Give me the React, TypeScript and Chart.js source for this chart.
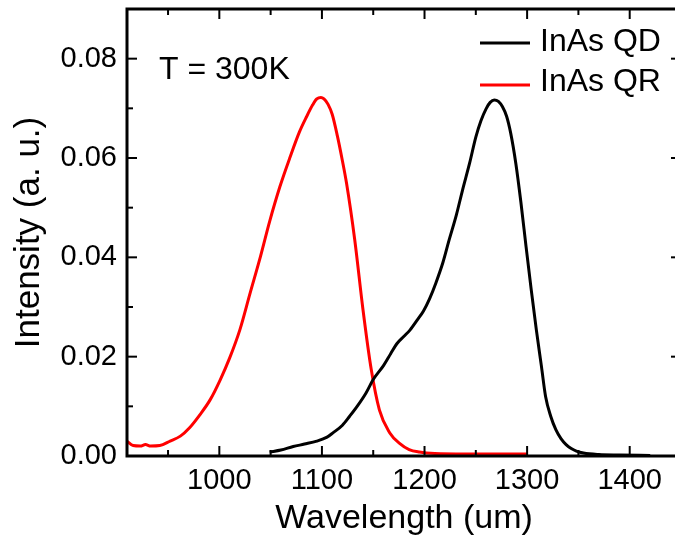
import React, { useEffect, useRef } from "react";
import { Chart, registerables } from "chart.js";

Chart.register(...registerables);

// ---- Data ----
const qrWavelength = [910, 916, 923, 928, 933, 942, 952, 962, 971, 981, 991, 1001, 1010, 1020, 1030, 1040, 1049, 1059, 1069, 1078, 1085, 1091, 1095, 1099, 1102, 1106, 1110, 1115, 1120, 1124, 1132, 1140, 1148, 1156, 1166, 1176, 1185, 1195, 1210, 1240, 1270, 1300];
const qrIntensity = [0.0030, 0.0021, 0.0020, 0.0023, 0.0020, 0.0021, 0.0030, 0.0040, 0.0057, 0.0083, 0.0113, 0.0154, 0.0197, 0.0254, 0.0328, 0.0401, 0.0472, 0.0542, 0.0602, 0.0652, 0.0683, 0.0707, 0.0719, 0.0722, 0.0719, 0.0708, 0.0688, 0.0645, 0.0594, 0.0549, 0.0435, 0.0295, 0.0175, 0.0093, 0.0047, 0.0025, 0.0013, 0.0008, 0.0005, 0.0004, 0.0004, 0.0004];

const qdWavelength = [1049, 1060, 1072, 1083, 1095, 1105, 1111, 1120, 1127, 1135, 1143, 1150, 1160, 1167, 1173, 1180, 1186, 1193, 1199, 1205, 1211, 1218, 1224, 1231, 1237, 1244, 1250, 1255, 1260, 1264, 1268, 1272, 1276, 1280, 1284, 1289, 1294, 1299, 1304, 1309, 1314, 1318, 1323, 1328, 1333, 1338, 1343, 1348, 1355, 1370, 1390, 1420];
const qdIntensity = [0.0008, 0.0012, 0.0019, 0.0024, 0.0030, 0.0038, 0.0047, 0.0062, 0.0080, 0.0102, 0.0127, 0.0154, 0.0182, 0.0206, 0.0226, 0.0241, 0.0254, 0.0274, 0.0292, 0.0317, 0.0348, 0.0390, 0.0435, 0.0485, 0.0535, 0.0590, 0.0642, 0.0675, 0.0699, 0.0712, 0.0717, 0.0714, 0.0703, 0.0684, 0.0650, 0.0589, 0.0510, 0.0421, 0.0335, 0.0254, 0.0180, 0.0120, 0.0080, 0.0053, 0.0035, 0.0023, 0.0015, 0.0010, 0.0006, 0.0003, 0.0002, 0.0001];

const seriesLabels = ["InAs QD", "InAs QR"];
const seriesColors = ["#000000", "#ff0000"];

const xTickValues = [1000, 1100, 1200, 1300, 1400];
const xMinorValues = [950, 1050, 1150, 1250, 1350];
const yTickValues = [0, 0.02, 0.04, 0.06, 0.08];
const yMinorValues = [0.01, 0.03, 0.05, 0.07];

const xTitle = "Wavelength (um)";
const yTitle = "Intensity (a. u.)";
const annotationText = "T = 300K";

const FONT = "'Liberation Sans', Arial, sans-serif";

const framePlugin = {
  id: "frameTicks",
  afterDatasetsDraw(chart: any) {
    const { ctx, chartArea: a, scales } = chart;
    const xs = scales.x;
    const ys = scales.y;
    ctx.save();
    ctx.strokeStyle = "#000";
    ctx.lineWidth = 2;
    const seg = (x1: number, y1: number, x2: number, y2: number) => {
      ctx.beginPath();
      ctx.moveTo(x1, y1);
      ctx.lineTo(x2, y2);
      ctx.stroke();
    };
    const xTick = (v: number, len: number) => {
      const px = xs.getPixelForValue(v);
      seg(px, a.bottom, px, a.bottom - len);
      seg(px, a.top, px, a.top + len);
    };
    const yTick = (v: number, len: number) => {
      const py = ys.getPixelForValue(v);
      seg(a.left, py, a.left + len, py);
      seg(a.right, py, a.right - len, py);
    };
    xTickValues.forEach((v) => xTick(v, 10));
    xMinorValues.forEach((v) => xTick(v, 6));
    yTickValues.forEach((v) => yTick(v, 10));
    yMinorValues.forEach((v) => yTick(v, 6));
    ctx.lineWidth = 3;
    ctx.strokeRect(a.left, a.top, a.right - a.left, a.bottom - a.top);
    ctx.restore();
  },
  afterDraw(chart: any) {
    const { ctx } = chart;
    ctx.save();
    ctx.fillStyle = "#000";
    ctx.textBaseline = "alphabetic";
    ctx.textAlign = "left";
    ctx.font = `32px ${FONT}`;
    ctx.fillText(annotationText, 159, 79);
    const lineY = [43, 85];
    const textY = [51, 91];
    chart.data.datasets.forEach((ds: any, i: number) => {
      ctx.strokeStyle = ds.borderColor;
      ctx.lineWidth = 3;
      ctx.beginPath();
      ctx.moveTo(480, lineY[i]);
      ctx.lineTo(530, lineY[i]);
      ctx.stroke();
      ctx.fillStyle = "#000";
      ctx.fillText(ds.label, 540, textY[i]);
    });
    ctx.restore();
  },
};

export default function App() {
  const ref = useRef<HTMLCanvasElement | null>(null);

  useEffect(() => {
    document.body.style.overflow = "hidden";
    const canvas = ref.current;
    if (!canvas) return;
    const toPoints = (xs: number[], ys: number[]) => xs.map((x, i) => ({ x, y: ys[i] }));
    const chart = new Chart(canvas, {
      type: "line",
      data: {
        datasets: [
          {
            label: seriesLabels[0],
            data: toPoints(qdWavelength, qdIntensity),
            borderColor: seriesColors[0],
            backgroundColor: seriesColors[0],
            borderWidth: 3,
            pointRadius: 0,
            cubicInterpolationMode: "monotone",
            fill: false,
          },
          {
            label: seriesLabels[1],
            data: toPoints(qrWavelength, qrIntensity),
            borderColor: seriesColors[1],
            backgroundColor: seriesColors[1],
            borderWidth: 3,
            pointRadius: 0,
            cubicInterpolationMode: "monotone",
            fill: false,
          },
        ],
      },
      options: {
        responsive: false,
        animation: false,
        devicePixelRatio: 1,
        layout: { padding: { top: 9, right: 9, left: 0, bottom: 0 } },
        plugins: {
          legend: { display: false },
          tooltip: { enabled: false },
        },
        scales: {
          x: {
            type: "linear",
            min: 910,
            max: 1450,
            afterBuildTicks: (s: any) => {
              s.ticks = xTickValues.map((value) => ({ value }));
            },
            afterFit: (s: any) => {
              s.height = 83;
              s.paddingLeft = 0;
              s.paddingRight = 0;
            },
            grid: { display: false, drawTicks: false },
            border: { display: false },
            ticks: {
              color: "#000",
              font: { size: 29, family: FONT },
              padding: 8,
              maxRotation: 0,
              autoSkip: false,
              callback: (v: any) => String(v),
            },
            title: {
              display: true,
              text: xTitle,
              color: "#000",
              font: { size: 34, family: FONT },
              padding: { top: 0, bottom: 0 },
            },
          },
          y: {
            type: "linear",
            min: 0,
            max: 0.09,
            afterBuildTicks: (s: any) => {
              s.ticks = yTickValues.map((value) => ({ value }));
            },
            afterFit: (s: any) => {
              s.width = 127;
              s.paddingTop = 0;
              s.paddingBottom = 0;
            },
            grid: { display: false, drawTicks: false },
            border: { display: false },
            ticks: {
              color: "#000",
              font: { size: 29, family: FONT },
              padding: 10,
              callback: (v: any) => Number(v).toFixed(2),
            },
            title: {
              display: true,
              text: yTitle,
              color: "#000",
              font: { size: 35, family: FONT },
              padding: { top: 8, bottom: 0 },
            },
          },
        },
      },
      plugins: [framePlugin],
    });
    return () => chart.destroy();
  }, []);

  return (
    <canvas
      ref={ref}
      width={690}
      height={539}
      style={{ position: "fixed", left: 0, top: 0, width: 690, height: 539, background: "#fff" }}
    />
  );
}
